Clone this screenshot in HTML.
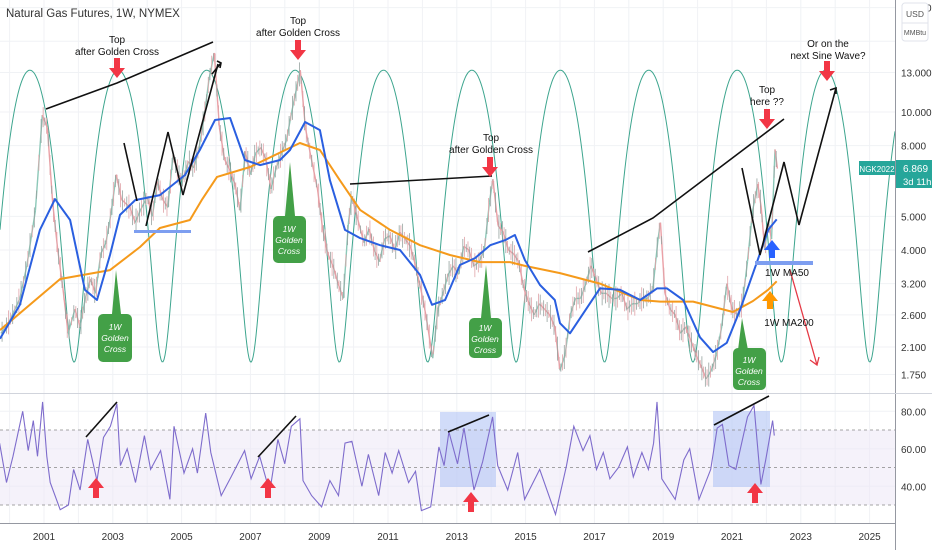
<!DOCTYPE html>
<html><head><meta charset="utf-8"><style>
html,body{margin:0;padding:0;background:#fff;}
svg{display:block;font-family:"Liberation Sans",sans-serif;}
</style></head><body>
<svg id="chart" width="932" height="550" viewBox="0 0 932 550" xmlns="http://www.w3.org/2000/svg">
<g id="grid"></g>
<rect x="0" y="430" width="895" height="75" fill="#ede7f6" opacity="0.55"/>
<rect x="440" y="412" width="56" height="75" fill="#b3c4f5" opacity="0.6"/>
<rect x="713" y="411" width="57" height="76" fill="#b3c4f5" opacity="0.6"/>
<g id="series"></g>
<g id="annot"></g>
<g id="axes"></g>
</svg>
<script>
const priceTicks=[20,16,13,10,8,5,4,3.2,2.6,2.1,1.75];
const priceTickLabels=["20.000","16.000","13.000","10.000","8.000","5.000","4.000","3.200","2.600","2.100","1.750"];
const rsiTicks=[80,60,40];
const rsiTickLabels=["80.00","60.00","40.00"];
const yearTicks=[2001,2003,2005,2007,2009,2011,2013,2015,2017,2019,2021,2023,2025];
const priceYears=[1999.75,2000.0,2000.3,2000.5,2000.75,2000.95,2001.1,2001.25,2001.4,2001.55,2001.7,2001.9,2002.05,2002.2,2002.35,2002.5,2002.65,2002.8,2002.95,2003.1,2003.25,2003.5,2003.65,2003.8,2004.0,2004.15,2004.3,2004.45,2004.6,2004.75,2004.9,2005.05,2005.2,2005.35,2005.5,2005.65,2005.8,2005.95,2006.1,2006.25,2006.4,2006.55,2006.7,2006.85,2007.0,2007.15,2007.3,2007.45,2007.6,2007.75,2007.9,2008.05,2008.2,2008.35,2008.45,2008.6,2008.75,2008.95,2009.1,2009.25,2009.4,2009.55,2009.7,2009.85,2009.95,2010.1,2010.3,2010.45,2010.6,2010.75,2010.9,2011.05,2011.2,2011.35,2011.5,2011.65,2011.8,2011.95,2012.1,2012.3,2012.45,2012.6,2012.75,2012.9,2013.05,2013.2,2013.35,2013.5,2013.65,2013.8,2013.95,2014.05,2014.2,2014.35,2014.5,2014.65,2014.8,2014.95,2015.1,2015.25,2015.4,2015.55,2015.7,2015.85,2016.0,2016.15,2016.3,2016.45,2016.6,2016.75,2016.9,2017.05,2017.2,2017.35,2017.5,2017.65,2017.8,2017.95,2018.1,2018.25,2018.4,2018.55,2018.7,2018.85,2018.92,2019.05,2019.2,2019.35,2019.5,2019.65,2019.8,2019.95,2020.1,2020.25,2020.4,2020.55,2020.7,2020.85,2021.0,2021.15,2021.3,2021.45,2021.6,2021.75,2021.85,2021.95,2022.05,2022.15,2022.25,2022.32];
const priceValues=[2.3,2.5,2.9,3.6,5.2,9.8,9.0,5.5,4.0,3.1,2.3,2.7,2.4,2.9,3.3,3.0,3.9,4.2,5.1,6.6,5.6,5.3,4.8,5.2,5.7,5.0,6.3,5.6,5.3,7.5,6.6,6.4,7.2,6.9,7.8,9.6,12.5,14.8,9.0,7.3,6.8,6.2,5.2,7.7,6.6,7.6,7.9,7.3,6.0,6.9,7.6,8.3,10.0,11.8,13.2,9.0,7.5,6.0,4.6,3.9,3.6,3.2,2.9,4.8,5.7,5.0,4.2,4.6,4.0,3.7,4.3,4.4,4.0,4.5,4.3,4.1,3.6,3.1,2.6,1.95,2.7,3.0,3.4,3.6,3.4,4.1,4.0,3.6,3.7,4.0,5.5,6.4,4.7,4.5,4.0,3.9,3.7,3.1,2.8,2.6,2.8,2.7,2.6,2.4,1.8,2.0,2.6,2.9,2.9,3.2,3.6,3.3,3.0,3.0,2.9,2.9,3.0,2.7,2.8,2.8,2.9,2.9,3.1,4.3,4.8,3.0,2.7,2.6,2.3,2.4,2.2,2.0,1.85,1.7,1.8,2.0,2.4,3.2,2.7,2.6,2.8,3.7,5.2,6.2,5.3,4.0,4.8,4.3,7.8,6.87];
const ma50Years=[1999.72,2000.30,2000.88,2001.32,2001.76,2002.19,2002.54,2002.92,2003.21,2003.65,2004.37,2005.10,2005.53,2005.97,2006.41,2006.84,2007.28,2007.86,2008.15,2008.59,2009.02,2009.31,2009.75,2010.19,2010.77,2011.35,2011.93,2012.28,2012.66,2013.09,2013.53,2013.97,2014.40,2014.69,2014.98,2015.42,2015.85,2016.0,2016.29,2017.16,2017.74,2018.33,2018.82,2019.11,2019.58,2020.07,2020.45,2020.85,2021.23,2021.73,2022.05,2022.3];
const ma50Values=[2.22,2.78,4.57,5.61,4.88,3.07,2.87,3.87,5.05,5.57,5.76,6.58,7.77,9.48,9.61,7.27,7.03,7.27,7.77,9.36,8.87,6.36,4.57,4.33,4.13,4.0,3.39,2.78,2.87,3.62,3.79,4.13,4.27,4.42,3.74,3.17,2.87,2.46,2.30,3.10,3.07,2.87,3.10,3.10,2.87,2.24,2.03,2.16,2.68,3.70,4.57,4.9];
const ma200Years=[1999.72,2001.47,2002.92,2003.79,2004.37,2005.24,2005.6,2006.03,2006.99,2008.44,2009.02,2009.60,2010.19,2011.06,2011.93,2012.80,2013.67,2014.55,2014.98,2016.0,2017.16,2018.33,2018.91,2019.87,2021.03,2021.61,2022.05,2022.3];
const ma200Values=[2.35,3.30,3.50,4.08,4.63,4.88,5.6,6.5,6.94,8.14,7.77,6.36,5.22,4.57,4.13,3.87,3.69,3.69,3.6,3.43,3.2,2.87,2.84,2.84,2.65,2.85,3.07,3.25];
const rsiYears=[1999.71,1999.91,2000.10,2000.38,2000.54,2000.69,2000.81,2000.96,2001.08,2001.18,2001.47,2001.71,2001.86,2002.05,2002.27,2002.54,2002.73,2002.93,2003.12,2003.22,2003.42,2003.66,2003.92,2004.10,2004.39,2004.66,2004.78,2005.07,2005.32,2005.46,2005.70,2005.85,2006.15,2006.44,2006.83,2007.02,2007.27,2007.56,2007.80,2008.00,2008.19,2008.44,2008.53,2008.78,2009.07,2009.31,2009.56,2009.75,2009.95,2010.24,2010.43,2010.73,2010.92,2011.12,2011.31,2011.60,2011.80,2011.97,2012.24,2012.48,2012.63,2012.77,2013.02,2013.21,2013.50,2013.75,2014.04,2014.19,2014.48,2014.77,2014.97,2015.41,2015.87,2016.19,2016.40,2016.67,2016.87,2017.06,2017.26,2017.45,2017.70,2017.96,2018.13,2018.38,2018.57,2018.72,2018.82,2018.96,2019.35,2019.60,2019.77,2020.04,2020.38,2020.57,2020.72,2020.91,2021.11,2021.45,2021.64,2021.84,2021.98,2022.18,2022.23];
const rsiValues=[63,42,56,80,59,75,56,85,56,42,27.5,30,49,38,65,43,66,72,84,51,60,42,67,49,59,33,72,47,60,47,79,58,35,45,59,44,56,37,65,52,72,76,43,35,29,43,35,63,64,40,57,35,58,47,59,42,48,27,29,61,51,69,52,71,38,53,77,51,38,58,33,49,25,51,72,59,67,49,58,44,50,61,45,58,49,63,85,44,33,54,60,33,49,71,73,51,49,77,83,41,54,75,67];
const sineMid=7.55, sineAmp=5.65, sinePeriod=2.57, sinePeak=2000.59;

const NS="http://www.w3.org/2000/svg";
const X=yr=>44+(yr-2001)*34.4;
const PY=p=>112-150.6*Math.log(p/10);
const RY=r=>430+(70-r)*1.875;
function mk(tag,attrs,parent){const e=document.createElementNS(NS,tag);for(const k in attrs)e.setAttribute(k,attrs[k]);parent.appendChild(e);return e;}
const grid=document.getElementById('grid'),ser=document.getElementById('series'),ax=document.getElementById('axes'),an=document.getElementById('annot');

priceTicks.forEach(p=>{const l=mk('line',{x1:0,x2:895,y1:PY(p),y2:PY(p),stroke:'#f0f2f5','stroke-width':1},grid);

});
rsiTicks.forEach(r=>{const l=mk('line',{x1:0,x2:895,y1:RY(r),y2:RY(r),stroke:'#f0f2f5'},grid);

});
for(let yr=2000;yr<=2026;yr++){const x=X(yr);if(x<0||x>895)continue;const l=mk('line',{x1:x,x2:x,y1:0,y2:523,stroke:'#f0f2f5'},grid);

}

let d='';for(let x=0;x<=895;x+=1){const yr=2001+(x-44)/34.4;const p=sineMid+sineAmp*Math.cos(2*Math.PI*(yr-sinePeak)/sinePeriod);d+=(x?'L':'M')+x+' '+PY(p).toFixed(1);}
const sine=mk('path',{d:d,fill:'none',stroke:'#3da58e','stroke-width':1},ser);



for(let i=1;i<priceValues.length;i++){const up=priceValues[i]>=priceValues[i-1];
const x0=X(priceYears[i-1]),x1=X(priceYears[i]),y0=PY(priceValues[i-1]),y1=PY(priceValues[i]);
const s=mk('line',{x1:x0,y1:y0,x2:x1,y2:y1,stroke:up?'#8cc8b8':'#eba0a6','stroke-width':1.4},ser);


const n=Math.max(1,Math.round((x1-x0)/2));
for(let k=0;k<n;k++){const t=(k+0.5)/n;const xx=x0+(x1-x0)*t,yy=y0+(y1-y0)*t;const h=4+((k*7+i*3)%5)*2;
const w=mk('line',{x1:xx,x2:xx,y1:yy-h,y2:yy+h,stroke:((k+i)%2)?'#96a3a0':'#e0a3a8','stroke-width':0.8},ser);

}}
function poly(xs,vs,f){return xs.map((y,i)=>(i?'L':'M')+X(y).toFixed(1)+' '+f(vs[i]).toFixed(1)).join('');}
const o=mk('path',{d:poly(ma200Years,ma200Values,PY),fill:'none',stroke:'#f59a1b','stroke-width':2,'stroke-linejoin':'round'},ser);


const b=mk('path',{d:poly(ma50Years,ma50Values,PY),fill:'none',stroke:'#2a5fe0','stroke-width':2,'stroke-linejoin':'round'},ser);


[70,50,30].forEach(r=>{const l=mk('line',{x1:0,x2:895,y1:RY(r),y2:RY(r),stroke:'#888','stroke-dasharray':'3 3','stroke-width':0.8},ser);

});
const rl=mk('path',{d:poly(rsiYears,rsiValues,RY),fill:'none',stroke:'#7e6ccc','stroke-width':1.1},ser);



mk('rect',{x:895,y:0,width:37,height:550,fill:'#fff'},ax);
mk('line',{x1:895.5,x2:895.5,y1:0,y2:550,stroke:'#9598a1'},ax);
mk('line',{x1:0,x2:895,y1:523.5,y2:523.5,stroke:'#9598a1'},ax);
mk('line',{x1:0,x2:932,y1:393.5,y2:393.5,stroke:'#d1d4dc'},ax);
priceTicks.forEach((p,i)=>{if(p===16)return;const t=mk('text',{x:901,y:PY(p)+4,'font-size':10,fill:'#333'},ax);t.textContent=priceTickLabels[i];

});
rsiTicks.forEach((r,i)=>{const t=mk('text',{x:901,y:RY(r)+4,'font-size':10,fill:'#333'},ax);t.textContent=rsiTickLabels[i];

});
yearTicks.forEach(yr=>{const t=mk('text',{x:X(yr),y:540,'font-size':10,fill:'#333','text-anchor':'middle'},ax);t.textContent=yr;

});
</script>
<svg style="position:absolute;left:0;top:0" width="932" height="550">
<text x="6" y="17" font-size="11.5" fill="#333" font-family="Liberation Sans, sans-serif">Natural Gas Futures, 1W, NYMEX</text>
<g><rect x="902" y="3" width="26" height="38" rx="3" fill="#fff" stroke="#e0e3eb"/><text x="915" y="17" font-size="8.5" text-anchor="middle" fill="#555" font-family="Liberation Sans, sans-serif">USD</text><line x1="902" x2="928" y1="23" y2="23" stroke="#e0e3eb"/><text x="915" y="35" font-size="7" text-anchor="middle" fill="#555" font-family="Liberation Sans, sans-serif">MMBtu</text></g>
<g><rect x="859" y="161" width="36" height="14" fill="#26a69a"/><text x="877" y="172" font-size="8" fill="#fff" text-anchor="middle" font-family="Liberation Sans, sans-serif">NGK2022</text><rect x="896" y="160" width="36" height="28" fill="#26a69a"/><text x="903" y="172" font-size="10" fill="#fff" font-family="Liberation Sans, sans-serif">6.869</text><text x="903" y="185" font-size="9.5" fill="#fff" font-family="Liberation Sans, sans-serif">3d 11h</text></g>
<g stroke="#111" stroke-width="1.6" fill="none">
<path d="M46 109 L117 83 L213 42"/><path d="M350 184 L492 176"/><path d="M588 252 L653 218 L784 119"/>
<path d="M124 143 L137 201"/><path d="M146 226 L168 132 L183 195 L218 64"/><path d="M212 74 L221 63 M217 61 L221 63 L220 68"/>
<path d="M742 168 L760 255 L784 162 L799 225 L836 88"/><path d="M830 90 L836 88 L836 94"/>
<path d="M86 437 L117 402"/><path d="M258 457 L296 416"/><path d="M448 432 L489 415"/><path d="M714 425 L769 396"/>
</g>
<path d="M790 270 L817 365 M810 360 L817 365 L819 357" stroke="#e53945" stroke-width="1.3" fill="none"/>
<rect x="134" y="230" width="57" height="3" fill="#7d9ef0"/>
<rect x="755" y="261" width="58" height="4" fill="#7d9ef0"/>
<g fill="#f23645">
<path d="M114 58h6v10h5l-8 10l-8-10h5z"/><path d="M295 40h6v10h5l-8 10l-8-10h5z"/><path d="M487 157h6v10h5l-8 10l-8-10h5z"/><path d="M764 109h6v10h5l-8 10l-8-10h5z"/><path d="M824 61h6v10h5l-8 10l-8-10h5z"/>
<path d="M93 498h6v-10h5l-8-10l-8 10h5z"/><path d="M265 498h6v-10h5l-8-10l-8 10h5z"/><path d="M468 512h6v-10h5l-8-10l-8 10h5z"/><path d="M752 503h6v-10h5l-8-10l-8 10h5z"/>
</g>
<path d="M769 258h6v-8h5l-8-10l-8 10h5z" fill="#2962ff"/>
<path d="M767 309h6v-8h5l-8-10l-8 10h5z" fill="#ff9800"/>
<g font-family="Liberation Sans, sans-serif" font-size="10" fill="#111" text-anchor="middle">
<text x="117" y="43">Top</text><text x="117" y="55">after Golden Cross</text>
<text x="298" y="24">Top</text><text x="298" y="36">after Golden Cross</text>
<text x="491" y="141">Top</text><text x="491" y="153">after Golden Cross</text>
<text x="767" y="93">Top</text><text x="767" y="105">here ??</text>
<text x="828" y="47">Or on the</text><text x="828" y="59">next Sine Wave?</text>
<text x="787" y="276">1W MA50</text><text x="789" y="326">1W MA200</text>
</g>
<g fill="#43a047">
<path d="M112 314 L116 270 L121 314z"/><rect x="98" y="314" width="34" height="48" rx="5"/>
<path d="M285 216 L290 162 L295 216z"/><rect x="273" y="216" width="33" height="47" rx="5"/>
<path d="M481 318 L486 265 L491 318z"/><rect x="469" y="318" width="33" height="40" rx="5"/>
<path d="M738 350 L742 318 L748 350z"/><rect x="733" y="348" width="33" height="42" rx="5"/>
</g>
<g font-family="Liberation Sans, sans-serif" font-size="8.5" font-style="italic" fill="#fff" text-anchor="middle">
<text x="115" y="330">1W</text><text x="115" y="341">Golden</text><text x="115" y="352">Cross</text>
<text x="289" y="232">1W</text><text x="289" y="243">Golden</text><text x="289" y="254">Cross</text>
<text x="485" y="331">1W</text><text x="485" y="342">Golden</text><text x="485" y="353">Cross</text>
<text x="749" y="363">1W</text><text x="749" y="374">Golden</text><text x="749" y="385">Cross</text>
</g>
</svg>
</body></html>
